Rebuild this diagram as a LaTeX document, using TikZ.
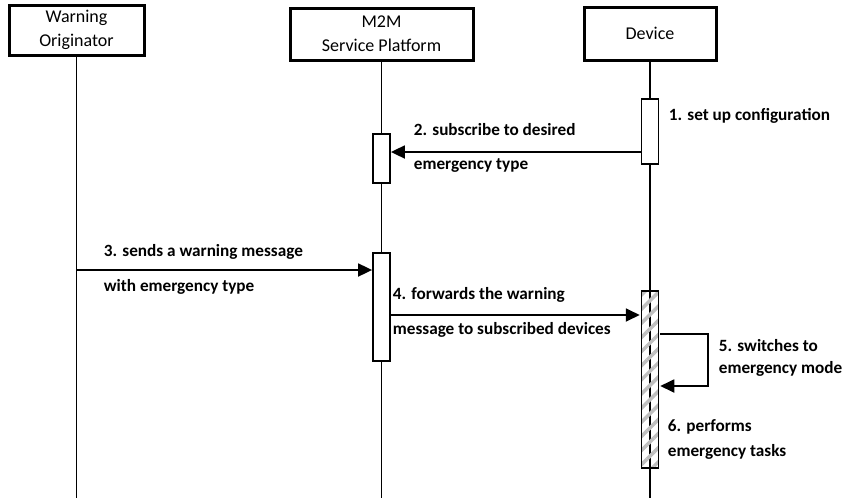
\documentclass[tikz,border=0pt]{standalone}
\usepackage{fontspec}
\setmainfont{Carlito}
\usetikzlibrary{arrows.meta,positioning,patterns.meta}
\begin{document}
\begin{tikzpicture}[x=1pt,y=-1pt]
\tikzstyle{head}=[draw, line width=3pt, align=center, inner sep=0pt, font=\fontsize{18}{24}\selectfont]
\tikzstyle{act}=[draw, line width=1.8pt, fill=white, minimum width=17pt, inner sep=0pt]
\tikzstyle{every path}=[line width=1.8pt]
\tikzstyle{msg}=[-{Triangle[length=14pt,width=13pt]}]
\tikzstyle{lbl}=[anchor=west, align=left, inner sep=0pt, font=\bfseries\fontsize{17.2}{24}\selectfont]
\useasboundingbox (0,0) rectangle (851,498);
% participants
\node [head, minimum width=135pt, minimum height=50pt] (WO) at (76.5,30) {Warning\\Originator};
\node [head, minimum width=183pt, minimum height=52pt] (MSP) at (381.5,34) {M2M\\Service Platform};
\node [head, minimum width=132pt, minimum height=53pt] (DEV) at (650,33.5) {Device};
% lifelines
\draw (WO.south) -- (WO.south |- 0,498);
\draw (MSP.south) -- (MSP.south |- 0,498);
\draw (DEV.south) -- (DEV.south |- 0,498);
% activations
\node [act, minimum height=65pt] (DEVA) at (DEV.south |- 0,131.5) {};
\node [act, minimum height=49pt] (MSPA) at (MSP.south |- 0,158.5) {};
\node [act, minimum height=108pt] (MSPB) at (MSP.south |- 0,307) {};
\node [act, minimum height=177pt, pattern={Lines[angle=45,distance=10pt,line width=3.5pt]}, pattern color=gray!50] (DEVB) at (DEV.south |- 0,379.5) {};
% messages
\path (DEVA.west |- 0,152) edge [msg] (MSPA.east |- 0,152);
\path (WO.south |- 0,270) edge [msg] (MSPB.west |- 0,270);
\path (MSPB.east |- 0,315) edge [msg] (DEVB.west |- 0,315);
\draw [msg] (DEVB.east |- 0,334) -- ++(48,0) -- ++(0,52) -- (DEVB.east |- 0,386);
% labels
\node [lbl] (L1) at (668,116) {1. set up configuration};
\node [lbl] (L2a) at (413,130) {2. subscribe to desired};
\node [lbl] (L2b) at (413,166) {emergency type};
\node [lbl] (L3a) at (103,252) {3. sends a warning message};
\node [lbl] (L3b) at (103,287) {with emergency type};
\node [lbl] (L4a) at (392,295) {4. forwards the warning};
\node [lbl] (L4b) at (392,330) {message to subscribed devices};
\node [lbl, font=\bfseries\fontsize{17.2}{22}\selectfont] (L5) at (718,358) {5. switches to\\emergency mode};
\node [lbl, font=\bfseries\fontsize{17.2}{25}\selectfont] (L6) at (667,439.5) {6. performs\\emergency tasks};
\end{tikzpicture}
\end{document}
